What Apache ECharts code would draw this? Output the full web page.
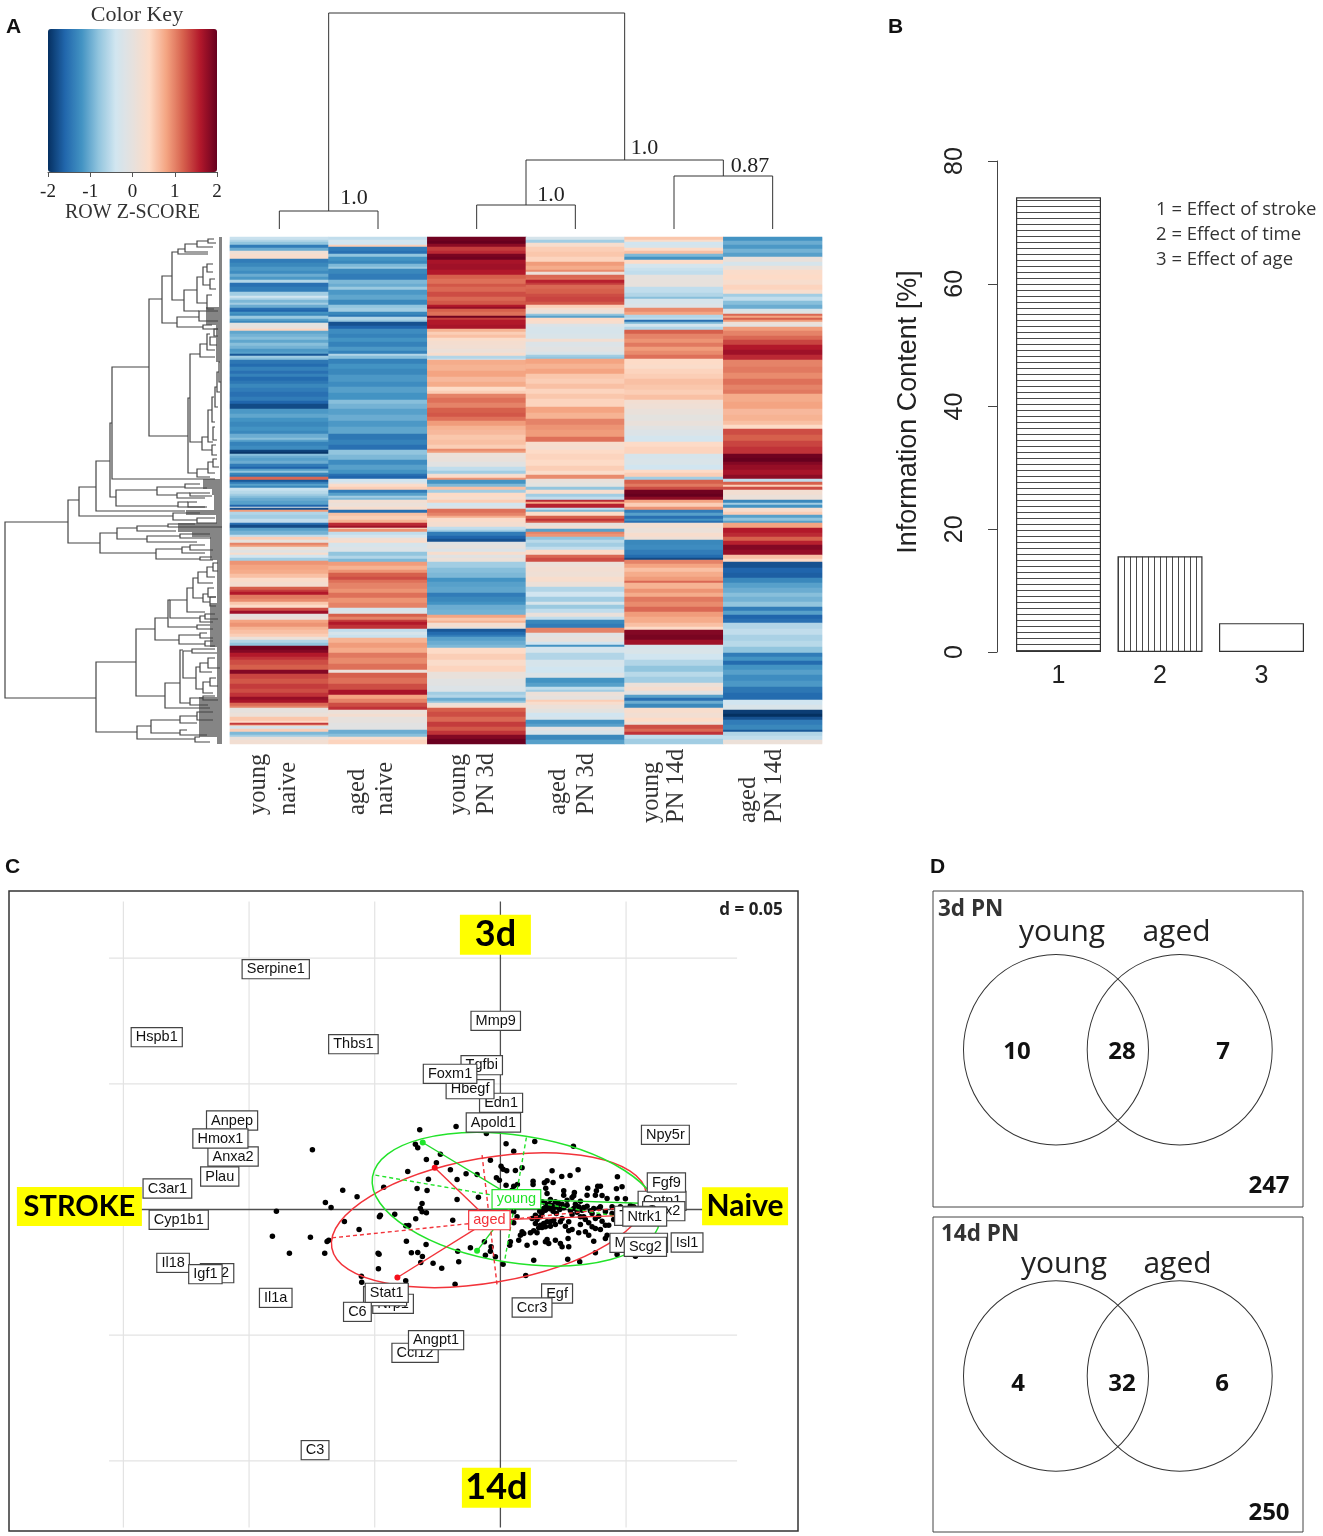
<!DOCTYPE html>
<html><head><meta charset="utf-8">
<style>html,body{margin:0;padding:0;background:#fff}#c{width:1323px;height:1536px}</style>
<script src="https://cdn.jsdelivr.net/npm/echarts@6/dist/echarts.min.js"></script>
</head><body><div id="c"></div>
<script>
// ---------- A: heatmap (runs of [last row, z-score]) ----------
const youngNaive=[[3,-.45],[5,-.6],[8,-.8],[11,-1.4],[14,-1],[17,.15],[20,.3],[22,.35],[26,-1.4],[30,-1.3],[34,-1.15],[37,-1.25],[40,-1],[43,-1.15],[46,-.6],[50,-1.5],[55,-1.4],[59,-.7],[61,-.4],[63,-.6],[66,-.9],[68,-.7],[71,-1],[73,-1.5],[75,-1.6],[77,-1.2],[79,-1.3],[82,-.75],[84,-1.1],[86,-1.3],[90,-.05],[92,.05],[94,.45],[97,-1.05],[100,-.95],[103,-.85],[106,-1.05],[109,-.85],[112,-.95],[115,-1.15],[117,-1.1],[119,-1.7],[121,-.7],[123,-.85],[127,-1.45],[130,-1.55],[134,-1.35],[137,-1.5],[140,-1.35],[144,-1.55],[147,-1.45],[151,-1.3],[155,-1.4],[160,-1.5],[164,-1.4],[167,-1.6],[172,-1.8],[177,-1.15],[181,-1.05],[185,-1.2],[190,-1.3],[194,-1.2],[197,-1.3],[201,-1],[203,-.85],[205,-1.1],[209,-1.35],[213,-1.25],[215,-1.85],[217,-1.95],[219,-.85],[221,-1],[224,-1.1],[227,-1],[230,-1.4],[232,-1.6],[234,-1.1],[236,-.8],[238,-1.3],[240,-1.45],[243,1.15],[245,-1.7],[247,-1.4],[249,-1.1],[251,-1.3],[254,-.45],[257,-.55],[259,-.7],[261,-.85],[264,-1],[268,-1.1],[270,-1.6],[271,-.2],[273,-1.75],[275,.85],[278,-.6],[282,-.7],[286,-.5],[288,-1.5],[291,-1.8],[294,-1.1],[298,-.95],[300,-.5],[303,.5],[306,0],[308,1],[310,.85],[313,.1],[316,-.1],[318,.3],[321,-.35],[324,-.7],[328,.9],[333,.8],[337,.75],[341,.6],[345,.35],[350,.25],[353,1.2],[355,1.4],[358,1.6],[362,1.05],[365,.95],[368,.55],[371,.4],[374,1.3],[377,1.7],[380,0],[383,.1],[386,.8],[390,.9],[393,.7],[397,.6],[400,.5],[403,.1],[406,-.6],[409,-.8],[413,1.95],[416,1.85],[420,1.6],[423,1.45],[428,1.3],[433,1.2],[437,1.85],[442,1.35],[447,1.25],[452,1.4],[456,1.3],[460,1.45],[463,1.75],[466,1.65],[469,1.15],[471,1],[476,0],[480,.1],[484,.55],[486,.4],[488,1.4],[489,.7],[492,-.3],[495,.5],[498,-.9],[500,-.7],[503,.05],[507,.2]];
const agedNaive=[[3,-.5],[5,-.35],[8,-.4],[10,.5],[14,-1.4],[17,-1.5],[20,-.8],[24,-1.2],[27,-1.3],[30,-.9],[32,-.75],[37,-1.3],[43,-1.4],[47,-.9],[50,-1],[53,-.75],[58,-1.15],[63,-1.05],[68,-1.3],[71,-.8],[75,-.7],[78,-1.3],[80,-1.45],[83,-.6],[85,-.75],[89,-1.75],[92,-1.6],[97,-1.25],[101,-1.35],[105,-1.2],[110,-1.35],[114,-1.15],[117,-1.35],[119,-.6],[122,-.85],[127,-1.35],[132,-1.2],[138,-1.3],[145,-1.15],[150,-1.25],[156,-1.1],[163,-1.2],[167,-.85],[172,-.95],[178,-1.1],[184,-1],[190,-1.15],[197,-1.05],[203,-1.45],[208,-1.35],[213,-1.5],[218,-.8],[223,-.9],[228,-1.25],[233,-1.1],[237,-1.2],[239,-1.5],[242,-1.6],[245,-.4],[247,-.2],[250,.35],[253,.5],[256,-1.4],[259,-1.1],[261,-.7],[263,-.9],[266,.2],[270,.1],[273,.3],[276,-1.5],[279,.6],[283,.5],[286,.7],[289,1.5],[291,1.7],[292,.4],[295,.9],[298,-.5],[301,-.35],[304,.2],[306,.35],[310,-.3],[315,-.2],[319,-.8],[322,-.6],[325,-.9],[329,.85],[333,.7],[336,.9],[340,1.2],[343,1.3],[346,1.1],[352,1],[356,.9],[361,1.1],[366,.9],[371,1],[374,-.35],[377,-.2],[380,1.2],[383,1],[385,1.4],[388,1.6],[392,1.45],[395,-.5],[398,-.3],[401,-.45],[406,.7],[411,.85],[416,.75],[421,1.05],[427,.95],[433,1.1],[436,.1],[441,1.2],[447,1.1],[453,1.3],[458,1.65],[462,.8],[466,1],[470,1.3],[473,1.45],[477,.1],[480,.25],[486,0],[493,-.1],[497,-1],[500,-.85],[503,.3],[507,.45]];
const youngPN3d=[[4,1.95],[7,2],[10,1.8],[14,1.4],[17,1.5],[20,1.9],[23,1.95],[27,1.65],[33,1.7],[38,1.6],[42,1.2],[47,1.1],[50,1.25],[55,1.15],[60,1.3],[64,1.15],[68,1.25],[70,1.6],[72,1.75],[75,1.2],[79,1.1],[81,1.95],[83,1.4],[88,1.6],[92,1.65],[95,.7],[98,.5],[101,.6],[104,.35],[108,.25],[112,.2],[116,.1],[119,.3],[122,-.6],[123,-.4],[128,.75],[134,.7],[140,.8],[145,.65],[150,.75],[154,.4],[157,.5],[161,1],[166,1.1],[171,1],[176,1.2],[180,1.25],[184,1.1],[189,.85],[193,.7],[198,.65],[203,.55],[208,.6],[212,.5],[214,.95],[216,.85],[220,.1],[225,.05],[230,-.1],[234,-.5],[237,-.7],[239,.2],[241,.4],[243,.9],[247,-1.2],[250,-.9],[253,.6],[256,-.7],[260,.4],[263,.3],[266,.5],[269,-.4],[272,-.2],[276,1.1],[279,1],[281,.75],[285,.35],[290,.25],[293,-.5],[295,-.7],[299,-1.4],[302,-1.6],[305,-1.75],[308,-.1],[312,0],[315,-.2],[318,.3],[321,-.1],[325,.1],[331,-.7],[336,-.85],[341,-.9],[345,-1.2],[350,-1.1],[356,-1.05],[360,-1.4],[365,-1.3],[368,-1.2],[373,-1],[378,-.95],[381,.8],[384,.55],[386,.7],[388,.2],[390,.3],[392,0],[395,-1.7],[398,-1.55],[400,-1.4],[404,-1.1],[408,-1],[411,-.9],[417,.4],[423,.5],[429,.35],[435,.45],[442,.05],[449,-.1],[455,-.2],[458,-.7],[461,-.6],[464,-1],[466,-.8],[469,.1],[471,.3],[475,1.2],[480,1.3],[485,1.15],[490,1.4],[494,1.25],[498,1.45],[502,1.85],[507,1.98]];
const agedPN3d=[[3,-.3],[6,-.7],[10,.3],[15,.5],[20,.55],[25,.45],[29,.85],[33,.75],[35,.95],[38,.1],[41,1.15],[43,1.1],[46,1.55],[48,1.4],[52,1.15],[57,1.2],[60,1.3],[65,1.35],[68,1.25],[71,.5],[73,.3],[77,.1],[79,-.8],[81,-1.1],[84,.4],[87,.3],[90,-.2],[92,-.3],[97,-.3],[102,-.25],[105,.2],[110,-.2],[115,-.1],[118,-.25],[120,-.7],[122,-.8],[127,.8],[132,.7],[137,.8],[142,.55],[147,.5],[152,.6],[157,.45],[162,.55],[170,.45],[176,.8],[182,.7],[188,1],[193,.9],[200,.85],[205,1.1],[209,.3],[213,.25],[217,.4],[223,.45],[229,.4],[234,.5],[238,.35],[242,.95],[246,.05],[250,-.05],[253,-.8],[257,.3],[260,-.7],[263,-.5],[265,1.5],[267,.8],[271,1.55],[273,-.5],[275,-.9],[279,.4],[282,1.2],[284,1.45],[286,1.25],[289,0],[292,.2],[295,-1.1],[297,1],[300,.9],[303,-.8],[306,-.55],[310,-.7],[313,-.5],[316,.4],[318,.3],[321,1.15],[325,1.3],[330,.1],[335,.2],[340,.15],[345,.3],[350,.1],[355,-.6],[360,-.4],[365,-.7],[368,-.3],[372,-.75],[376,-.5],[380,.05],[383,-.5],[387,-1.3],[391,-1.4],[396,1],[400,-.1],[405,0],[408,-.4],[410,-1.2],[413,-.35],[416,-.3],[423,-.6],[430,-.3],[436,-.4],[441,-.2],[446,-1.2],[450,-1.1],[453,-.5],[455,-.7],[459,.1],[463,0],[465,.5],[468,.3],[472,.1],[476,-.05],[480,-.4],[483,-.3],[487,-1.2],[490,-1.1],[494,-.1],[498,-.25],[503,-1.3],[507,-1.1]];
const youngPN14d=[[3,.55],[5,.35],[8,-.4],[11,-.3],[14,.4],[17,.6],[20,-.9],[23,-1.2],[27,.4],[31,-.35],[34,-.45],[38,-.5],[43,0],[50,.02],[56,-.5],[60,-.6],[62,-.85],[67,-.3],[71,-.2],[75,.95],[78,.8],[81,-.6],[83,-.5],[85,-1.5],[87,-.9],[90,-.35],[93,-.6],[97,1.2],[102,1],[106,.9],[110,1.05],[114,.85],[118,.95],[122,1.1],[128,.4],[132,.35],[137,.45],[142,.5],[148,.6],[153,.55],[158,.5],[163,.6],[167,.2],[172,.15],[178,.05],[184,-.05],[189,.05],[193,-.1],[199,-.2],[205,-.35],[210,.4],[217,.45],[222,-.3],[228,-.25],[233,-.4],[236,.4],[240,.5],[243,-.7],[247,1.2],[250,1.05],[253,1.3],[257,1.95],[260,2],[263,1.8],[266,.8],[270,.5],[273,.9],[276,-1.4],[279,-1.1],[282,-1.5],[284,-1.2],[286,-1.5],[291,.2],[296,.1],[300,.3],[303,.15],[308,-1.3],[313,-1.25],[318,-1.4],[321,-1.55],[323,-1.8],[327,1],[331,.8],[335,.6],[340,.75],[344,.85],[346,1.15],[352,.7],[356,.9],[360,.75],[365,1.05],[370,.95],[375,1.15],[380,.85],[386,.75],[390,.6],[393,.4],[398,1.85],[403,1.9],[408,1.7],[412,-.3],[417,-.25],[423,-.4],[429,-.6],[435,-.8],[440,-.55],[446,-.7],[450,.1],[454,.25],[458,-.1],[461,-1.1],[464,-1.5],[467,-1],[471,-1.3],[476,.3],[481,.2],[485,.4],[488,.15],[492,1.3],[495,1.15],[498,1.45],[502,-.5],[507,-.7]];
const agedPN14d=[[4,-1.2],[8,-1],[12,-1.15],[16,-.95],[20,-1.1],[25,.05],[29,-.3],[33,.1],[38,.35],[43,.4],[48,.3],[53,.45],[57,.3],[60,-.7],[64,-.5],[68,-.85],[72,-1],[74,-.3],[77,-.15],[79,1.15],[81,.8],[83,1.2],[85,.85],[88,.1],[90,-.1],[94,.85],[99,1],[103,1.15],[108,1.35],[113,1.6],[118,1.7],[123,1.5],[130,1],[136,1.05],[142,.95],[148,1.1],[153,1],[157,1.05],[165,.75],[172,.8],[178,.65],[184,.7],[188,.6],[192,.4],[198,1.3],[204,1.2],[210,1.35],[217,1.45],[221,1.95],[225,2],[228,1.85],[233,1.75],[238,1.65],[242,1.8],[245,-.5],[248,1.2],[250,.5],[253,1.3],[258,.2],[263,.1],[266,-1.3],[268,-.7],[271,-1.2],[275,.3],[278,.5],[281,-1.1],[284,-.8],[286,-1.1],[291,.8],[296,1.6],[300,1.5],[304,1.2],[308,1.55],[313,1.85],[318,1.75],[322,.6],[325,.4],[331,-1.75],[336,-1.6],[341,-1.65],[346,-1.3],[351,-1.1],[356,-1],[360,-.85],[365,-.95],[370,-.8],[374,-1.4],[378,-1.1],[382,-1.6],[386,-1.5],[392,-.6],[398,-.5],[404,-.65],[410,-.55],[416,-.8],[420,-1.4],[424,-1.2],[428,-1.55],[433,-1.2],[438,-1.1],[444,-1.25],[450,-1.15],[456,-1.45],[463,-1.55],[468,-.4],[473,-.25],[477,-1.9],[480,-2],[483,-1.75],[488,-1.4],[493,-1.3],[495,-1.7],[499,-.6],[503,-.5],[507,.1]];
const heatColumns=[youngNaive,agedNaive,youngPN3d,agedPN3d,youngPN14d,agedPN14d];
const columnLabels=[['young','naive'],['aged','naive'],['young','PN 3d'],['aged','PN 3d'],['young','PN 14d'],['aged','PN 14d']];
const zScoreColors=['#053061','#2166ac','#4393c3','#92c5de','#d1e5f0','#e6e1dd','#fddbc7','#f4a582','#d6604d','#b2182b','#67001f'];
// column dendrogram: [posA, posB, merge height, height of A, height of B]
const columnTree=[[0,1,18,0,0],[2,3,24,0,0],[4,5,53,0,0],[2.5,4.5,69,24,53],[.5,3.5,216,18,69]];
const columnSupport=[[.757,31,'1.0'],[2.753,34,'1.0'],[3.7,81,'1.0'],[4.77,63,'0.87']];
// row dendrogram: [merge depth, rowA, depthA, rowB, depthB]
const rowTree=[[5,285,68,461,96],[68,263,79,306,100],[79,250,96,279,173],[96,224,110,274,185],[110,186,112,260,116],[112,130,149,242,215],[149,62,162,199,188],[162,39,172,86,177],[172,15,178,63,184],[178,12,185,17,208],[185,7,197,15,208],[197,4,208,10,213],[208,2,214,6,216],[184,53,197,74,199],[197,40,203,66,207],[203,30,207,48,210],[207,27,213,35,213],[210,42,215,52,216],[207,58,212,72,214],[199,74,218,84,218],[177,80,199,90,203],[203,88,212,92,218],
[188,161,190,236,197],[190,117,200,205,202],[200,107,207,120,215],[207,97,210,113,215],[210,100,216,108,217],[214,92,218,99,218],[202,200,208,213,212],[208,173,212,205,213],[212,160,214,185,215],[213,190,215,203,217],[215,150,217,170,218],[217,135,219,155,220],[219,125,220,145,221],[212,208,216,218,217],[197,232,208,240,210],[208,225,213,236,215],[213,222,217,230,219],
[100,296,117,316,156],[117,291,137,302,147],[137,289,168,294,176],[168,287,195,290,222],[147,299,180,305,197],[180,297,210,301,211],[156,312,182,322,200],[182,310,190,316,205],[190,308,205,313,213],[200,320,212,323,213],[173,276,200,283,197],[197,281,215,286,217],[116,253,157,269,178],[157,250,185,258,177],[177,256,190,261,205],[190,256,210,259,212],[185,247,200,251,207],[178,265,188,270,205],[188,265,197,270,207],
[96,425,136,495,137],[136,392,155,459,165],[155,381,168,403,179],[168,363,170,390,197],[170,363,187,381,200],[187,351,193,375,205],[193,341,198,361,203],[198,335,207,346,213],[207,330,213,340,215],[213,326,218,334,218],[203,357,208,365,210],[208,351,214,360,216],[210,360,216,369,216],[200,379,205,385,213],[205,377,215,382,218],[197,388,210,392,213],[179,398,200,407,205],[200,396,207,401,213],[205,404,213,409,215],[165,446,180,471,210],[180,413,183,466,190],[183,414,192,441,196],[192,412,215,416,217],[196,430,200,452,203],[200,426,208,435,212],[208,421,215,431,220],[203,445,210,456,213],[210,441,216,449,218],[190,461,203,468,208],[203,459,215,463,218],[137,489,151,502,195],[151,483,180,496,180],[180,479,197,486,197],[197,475,213,483,213],[180,493,187,498,207],[195,500,200,505,210]];
// gene-leaf fringe: [last row, depth where the dense leaves start]
const leafFringe=[[70,219],[88,206],[125,216],[242,220],[252,203],[258,212],[273,214],[278,186],[286,216],[295,178],[300,192],[323,210],[366,217],[410,210],[460,217],[500,199],[507,217]];
const keyTicks=[-2,-1,0,1,2];

// ---------- B: information content ----------
const effectNames=['1','2','3'];
const informationContent=[74.1,15.6,4.7];
const effectLegend=['1 = Effect of stroke','2 = Effect of time','3 = Effect of age'];

// ---------- C: coinertia map ----------
const geneScores=[[-564,179],[-242,239],[-133,249],[-42,228],[-255,196],[-248,185],[-180,166],[-222,150],[-278,114],[-150,119],[-192,140],[-216,91],[-130,90],[-103,107],[-70,105],[-350,67],[-473,58],[-430,38],[-525,21],[-508,6],[-250,63],[-220,57],[-130,30],[-66,37],[-235,18],[-240,3],[-235,-7],[-222,-10],[-360,-17],[-363,-22],[-317,-14],[-254,-28],[-143,-32],[-468,-36],[-424,-60],[-284,-49],[-275,-48],[-570,-83],[-515,-92],[-520,-96],[-282,-95],[-223,-105],[-527,-131],[-367,-131],[-364,-134],[-267,-130],[-248,-129],[-234,-141],[-128,-125],[-90,-115],[-202,-161],[-176,-176],[-125,-157],[-366,-178],[-417,-200],[-416,-218],[-284,-214],[-136,-224],[-239,-159],[-672,-5],[-684,-80],[-633,-131],
[17,197],[40,175],[103,204],[219,190],[-30,148],[2,130],[8,121],[19,116],[45,117],[65,125],[155,116],[233,119],[-12,95],[-3,88],[17,73],[35,58],[51,75],[40,70],[98,85],[98,75],[140,86],[132,80],[158,81],[136,64],[140,48],[184,99],[209,102],[351,98],[292,70],[300,70],[348,62],[365,68],[262,64],[288,56],[190,56],[190,43],[222,51],[220,41],[215,36],[260,43],[285,43],[305,42],[320,33],[375,32],[350,33],[390,12],
[125,23],[135,18],[145,16],[155,13],[165,23],[175,18],[185,16],[140,10],[150,8],[160,6],[130,3],[170,8],[200,13],[225,16],[235,8],[250,6],[260,10],[280,3],[295,3],[220,3],[245,-2],[270,-4],[300,8],[315,-7],[335,-12],
[105,-17],[135,-2],[120,-22],[95,-27],[105,-42],[100,-64],[120,-47],[130,-42],[140,-37],[150,-37],[160,-32],[135,-52],[125,-54],[185,-27],[180,-37],[205,-37],[205,-64],[250,-22],[275,-12],[285,-27],[275,-52],[285,-57],[315,-47],[325,-47],[255,-67],[265,-77],[280,-95],[320,-77],[315,-87],[65,-67],[60,-77],[70,-72],[55,-92],[90,-70],[110,-70],[30,-97],[28,-107],[80,-107],[105,-100],[135,-97],[145,-102],[165,-92],[140,-90],[180,-102],[185,-112],[205,-112],[203,-87],[285,-130],[350,-135],[405,-140],[100,-152],[202,-149],[238,-157],[8,-164],[76,-198],[-15,-142],[-45,-137],[-30,-125],[-48,-97],[-28,-112],[40,-40],[50,-22],[40,-7],[20,-17],[375,-32],[390,-17],[400,8],[360,8],[335,8],
[110,10],[118,-5],[125,-10],[148,2],[158,-5],[168,-12],[178,0],[190,5],[210,-3],[215,-15],[230,-8],[240,-22],[255,-30],[265,-40],[295,-20],[305,-35],[110,-30],[115,-55],[150,-50],[165,-45],[195,-50],[215,-60],[235,-70],[240,-45],[300,-60],[340,-30],[350,-5],[150,30],[200,28],[240,25]];
const geneLabels=[['Serpine1',-674,721],['Hspb1',-1031,517],['Thbs1',-441,496],['Mmp9',-14,566],['Tgfbi',-56,433],['Edn1',2,320],['Hbegf',-91,361],['Foxm1',-151,407],['Apold1',-21,261],['Anpep',-805,267],['Anxa2',-802,159],['Hmox1',-840,213],['Plau',-842,99],['C3ar1',-999,63],['Cyp1b1',-965,-31],['Il18',-982,-160],['Igf2',-850,-191],['Igf1',-885,-194],['Il1a',-674,-265],['Nrp1',-322,-283],['Stat3',-346,-260],['C6',-429,-307],['Stat1',-341,-250],['Ccl12',-256,-430],['Angpt1',-193,-392],['C3',-556,-722],['Egf',170,-252],['Ccr3',95,-294],['Npy5r',495,224],['Cntn1',485,26],['Fgf9',498,81],['Sox2',490,-5],['Tgfa',400,-19],['Ntrk1',433,-21],['Mmp12',415,-100],['Scg2',435,-112],['Isl1',560,-99]];
const gridLevelsX=[-1131,-754,-377,377];
const gridLevelsY=[754,377,-377,-754];
const youngCenter=[48,31], agedCenter=[-33,-32];
const youngEllipse=[47,31,436,191,-.1545], agedEllipse=[-34,-32,479,187,.1737];
const youngSamples=[[-233,201],[443,18],[-70,-124]];
const agedSamples=[[-197,125],[405,-17],[-309,-204]];
const youngAxes=[[-375,103,475,-42],[78,216,13,-152]];
const agedAxes=[[-505,-85,440,13],[-55,163,-10,-227]];
const axisTags=[['3d',-15,824,71,40,36],['14d',-12,-835,69,40,36],['STROKE',-1263,9,125,39,29],['Naive',734,10,86,38,30]];

// ---------- D: venn diagrams ----------
const venn3dCounts=[[84,161,'10'],[189,161,'28'],[290,161,'7'],[336,295,'247']];
const venn14dCounts=[[85,167,'4'],[189,167,'32'],[289,167,'6'],[336,296,'250']];
const venn3dSets=[[123,158.7],[246.7,158.7]];
const venn14dSets=[[123,159],[246.7,159]];

// ---------- build ----------
const SERIF='"Liberation Serif",serif', SANS='"Liberation Sans",Arial,sans-serif', OPEN='"Open Sans",sans-serif', LATO='Lato,sans-serif';
const rows=[];for(let r=0;r<507;r++)rows.push(r);
const heatData=[];
heatColumns.forEach((runs,c)=>{let start=0;runs.forEach(([end,z])=>{for(let r=start;r<end;r++)heatData.push([c,r,z]);start=end;});});
const fringeData=[];{let s=0;leafFringe.forEach(([e,d])=>{fringeData.push([s,e,d]);s=e;});}

function hatch(kind){const c=document.createElement('canvas');c.width=6;c.height=6;const g=c.getContext('2d');
  g.fillStyle='#fff';g.fillRect(0,0,6,6);g.fillStyle='#4a4a4a';if(kind==='h')g.fillRect(0,2,6,1);else g.fillRect(2,0,1,6);return c;}

const CLEAR={color:'transparent',opacity:1};
function hidden(min,max,gridIndex,extra){return Object.assign({type:'value',gridIndex,min,max,show:false,splitLine:{show:false}},extra||{});}
function poly(api,pts,stroke,w,dash){return {type:'polyline',silent:true,shape:{points:pts.map(p=>api.coord(p))},style:{stroke,lineWidth:w,fill:null,lineDash:dash||null}};}
function segs(name,data,xi,yi,stroke,w,dash,z){return {type:'custom',name,xAxisIndex:xi,yAxisIndex:yi,z,silent:true,clip:false,data,
  renderItem:(p,api)=>poly(api,[[api.value(0),api.value(1)],[api.value(2),api.value(3)]],stroke,w,dash)};}
function boxedLabels(data,xi,yi,z,color,border){return {type:'scatter',xAxisIndex:xi,yAxisIndex:yi,z,symbolSize:1,silent:true,itemStyle:CLEAR,
  data:data.map(d=>({value:[d[1],d[2]],name:d[0]})),labelLayout:{hideOverlap:false},
  label:{show:true,position:'inside',formatter:p=>p.name,fontFamily:SANS,fontSize:14.5,color,backgroundColor:'#fff',borderColor:border,borderWidth:1.2,padding:[1,4,1,4],lineHeight:16}};}
function ellipse(name,e,color){return {type:'custom',name,xAxisIndex:3,yAxisIndex:3,z:4,silent:true,data:[e],
  renderItem:(p,api)=>{const c=api.coord([api.value(0),api.value(1)]);const o=api.size([api.value(2),api.value(3)]);
    return {type:'ellipse',silent:true,shape:{cx:0,cy:0,rx:o[0],ry:o[1]},x:c[0],y:c[1],rotation:api.value(4),style:{stroke:color,lineWidth:1.5,fill:null}};}};}
function spokes(center,list){return list.map(s=>[center[0],center[1],s[0],s[1]]);}
function vennSeries(sets,counts,i){return [
  {type:'scatter',xAxisIndex:i,yAxisIndex:i,symbol:'circle',symbolSize:[185,190.5],silent:true,data:sets,itemStyle:{color:'transparent',opacity:1,borderColor:'#333',borderWidth:1}},
  {type:'scatter',xAxisIndex:i,yAxisIndex:i,symbolSize:1,silent:true,itemStyle:CLEAR,data:counts.map(d=>({value:[d[0],d[1]],name:d[2]})),
   label:{show:true,position:'inside',formatter:p=>p.name,fontFamily:OPEN,fontWeight:700,fontSize:24,color:'#111'}}];}

const texts=[];
function T(text,x,y,font,fill,align,rot){texts.push({type:'text',x,y,rotation:rot||0,silent:true,z:30,style:{text,font,fill:fill||'#222',align:align||'center',verticalAlign:'middle'}});}
T('A',6,27,'bold 21px '+SANS,'#111','left');T('B',888,27,'bold 21px '+SANS,'#111','left');T('C',5,867,'bold 21px '+SANS,'#111','left');T('D',930,867,'bold 21px '+SANS,'#111','left');
T('Color Key',137,15,'22px '+SERIF,'#333');
const labelBase=[815,815,815,815,823,823];
const labelOffsets=[[-21,9],[-20,8],[-18,10],[-17,11],[-22,3],[-24,2]];
columnLabels.forEach((l,i)=>{const cx=230+(i+.5)*98.67;l.forEach((t,j)=>T(t,cx+labelOffsets[i][j],labelBase[i],'24.5px '+SERIF,'#333','left',Math.PI/2));});
T('Information Content [%]',909,412,'27px '+SANS,'#222','center',Math.PI/2);
effectLegend.forEach((t,i)=>T(t,1156,210+25*i,'18.5px '+OPEN,'#333','left'));
T('d = 0.05',751,910,'bold 17px '+OPEN,'#222');
T('3d PN',938,910,'bold 22.5px '+OPEN,'#333','left');
T('14d PN',941,1235,'bold 22.5px '+OPEN,'#333','left');
T('young',1062,932,'30px '+OPEN,'#222');T('aged',1176.5,932,'30px '+OPEN,'#222');
T('young',1064,1264,'30px '+OPEN,'#222');T('aged',1177.5,1264,'30px '+OPEN,'#222');

const option={animation:false,backgroundColor:'#fff',
 grid:[
  {left:230,top:237,width:592,height:507},
  {left:0,top:237,width:222,height:507},
  {left:230,top:13,width:592,height:216},
  {left:9,top:891,width:789,height:640,show:true,borderColor:'#333',borderWidth:1.5,backgroundColor:'transparent'},
  {left:933,top:891,width:370,height:316,show:true,borderColor:'#444',borderWidth:1},
  {left:933,top:1217,width:370,height:315,show:true,borderColor:'#444',borderWidth:1},
  {left:1007.75,top:161,width:304.5,height:491},
  {left:48,top:29,width:169,height:143}
 ],
 xAxis:[
  {type:'category',gridIndex:0,data:columnLabels.map(l=>l.join(' ')),show:false},
  hidden(0,222,1),
  hidden(-.5,5.5,2),
  hidden(-1474.2,892.8,3),
  hidden(0,370,4),
  hidden(0,370,5),
  {type:'category',gridIndex:6,data:effectNames,axisLine:{show:false},axisTick:{show:false},axisLabel:{fontFamily:SANS,fontSize:25,color:'#222',margin:12}},
  {type:'value',gridIndex:7,min:-2,max:2,interval:1,position:'bottom',name:'ROW Z-SCORE',nameLocation:'middle',nameGap:31,nameTextStyle:{fontFamily:SERIF,fontSize:20,color:'#333'},
   axisLine:{show:true,lineStyle:{color:'#555'}},axisTick:{show:true,length:5,lineStyle:{color:'#555'}},axisLabel:{fontFamily:SERIF,fontSize:19,color:'#222',margin:11,showMinLabel:true,showMaxLabel:true,customValues:keyTicks},splitLine:{show:false}}
 ],
 yAxis:[
  {type:'category',gridIndex:0,data:rows,inverse:true,show:false},
  hidden(0,507,1,{inverse:true}),
  hidden(0,216,2),
  hidden(-964.5,955.5,3),
  hidden(0,316,4,{inverse:true}),
  hidden(0,315,5,{inverse:true}),
  {type:'value',gridIndex:6,min:0,max:80,interval:20,offset:10.75,
   axisLine:{show:true,lineStyle:{color:'#444'}},axisTick:{show:true,length:9,lineStyle:{color:'#444'}},axisLabel:{rotate:90,fontFamily:SANS,fontSize:25,color:'#222',margin:29},splitLine:{show:false}},
  hidden(0,1,7)
 ],
 visualMap:[{type:'continuous',seriesIndex:0,dimension:2,min:-2,max:2,orient:'horizontal',left:48,top:29,itemWidth:143,itemHeight:169,padding:0,text:null,calculable:false,hoverLink:false,showLabel:false,inRange:{color:zScoreColors}}],
 graphic:{elements:texts},
 series:[
  {type:'heatmap',xAxisIndex:0,yAxisIndex:0,data:heatData,silent:true,progressive:0,itemStyle:{borderWidth:0},emphasis:{disabled:true}},
  {type:'custom',name:'leaf fringe',xAxisIndex:1,yAxisIndex:1,silent:true,data:fringeData,z:1,
   renderItem:(p,api)=>{const a=api.coord([api.value(2),api.value(0)]),b=api.coord([222,api.value(1)]);return {type:'rect',silent:true,shape:{x:a[0],y:a[1],width:b[0]-a[0],height:b[1]-a[1]},style:{fill:'#858585'}};}},
  {type:'custom',name:'row tree',xAxisIndex:1,yAxisIndex:1,silent:true,data:rowTree,z:2,
   renderItem:(p,api)=>poly(api,[[api.value(2),api.value(1)],[api.value(0),api.value(1)],[api.value(0),api.value(3)],[api.value(4),api.value(3)]],'#444',1.2)},
  {type:'custom',name:'column tree',xAxisIndex:2,yAxisIndex:2,silent:true,data:columnTree,
   renderItem:(p,api)=>poly(api,[[api.value(0),api.value(3)],[api.value(0),api.value(2)],[api.value(1),api.value(2)],[api.value(1),api.value(4)]],'#333',1)},
  {type:'scatter',xAxisIndex:2,yAxisIndex:2,symbolSize:1,silent:true,itemStyle:CLEAR,data:columnSupport.map(d=>({value:[d[0],d[1]],name:d[2]})),
   label:{show:true,position:'inside',formatter:p=>p.name,fontFamily:SERIF,fontSize:22,color:'#222'}},
  {type:'bar',xAxisIndex:6,yAxisIndex:6,barWidth:85,silent:true,
   data:[{value:informationContent[0],itemStyle:{color:{image:hatch('h'),repeat:'repeat'}}},{value:informationContent[1],itemStyle:{color:{image:hatch('v'),repeat:'repeat'}}},{value:informationContent[2],itemStyle:{color:'#fff'}}],
   itemStyle:{borderColor:'#333',borderWidth:1.2}},
  segs('grid v',gridLevelsX.map(x=>[x,-954,x,924]),3,3,'#e3e3e3',1.2,null,1),
  segs('grid h',gridLevelsY.map(y=>[-1174,y,710,y]),3,3,'#e3e3e3',1.2,null,1),
  segs('axes',[[0,-954,0,924],[-1174,0,710,0]],3,3,'#4f4f4f',1.3,null,2),
  {type:'scatter',name:'genes',xAxisIndex:3,yAxisIndex:3,z:3,symbolSize:5.5,silent:true,data:geneScores,itemStyle:{color:'#000',opacity:1}},
  ellipse('aged ellipse',agedEllipse,'#f2333a'),
  ellipse('young ellipse',youngEllipse,'#22e32a'),
  segs('young spokes',spokes(youngCenter,youngSamples),3,3,'#22d92a',1.4,null,4),
  segs('young axes',youngAxes,3,3,'#22e32a',1.4,[4,3],4),
  segs('aged spokes',spokes(agedCenter,agedSamples),3,3,'#f2333a',1.4,null,4),
  segs('aged axes',agedAxes,3,3,'#f2333a',1.4,[4,3],4),
  {type:'scatter',xAxisIndex:3,yAxisIndex:3,z:5,symbolSize:6,silent:true,data:youngSamples,itemStyle:{color:'#1fe52a',opacity:1}},
  {type:'scatter',xAxisIndex:3,yAxisIndex:3,z:5,symbolSize:6,silent:true,data:agedSamples,itemStyle:{color:'#f5101c',opacity:1}},
  boxedLabels(geneLabels,3,3,6,'#111','#444'),
  boxedLabels([['young',youngCenter[0],youngCenter[1]]],3,3,7,'#22e32a','#22e32a'),
  boxedLabels([['aged',agedCenter[0],agedCenter[1]]],3,3,7,'#f2333a','#f2333a'),
  {type:'scatter',xAxisIndex:3,yAxisIndex:3,z:8,symbolSize:1,silent:true,itemStyle:CLEAR,
   data:axisTags.map(d=>({value:[d[1],d[2]],name:d[0],label:{width:d[3],height:d[4],lineHeight:d[4],fontSize:d[5]}})),
   label:{show:true,position:'inside',formatter:p=>p.name,align:'center',verticalAlign:'middle',backgroundColor:'#ffff00',color:'#000',fontFamily:LATO,fontWeight:700}},
  ...vennSeries(venn3dSets,venn3dCounts,4),
  ...vennSeries(venn14dSets,venn14dCounts,5)
 ]};
const chart=echarts.init(document.getElementById('c'),null,{renderer:'canvas',width:1323,height:1536});
chart.setOption(option);
</script></body></html>
